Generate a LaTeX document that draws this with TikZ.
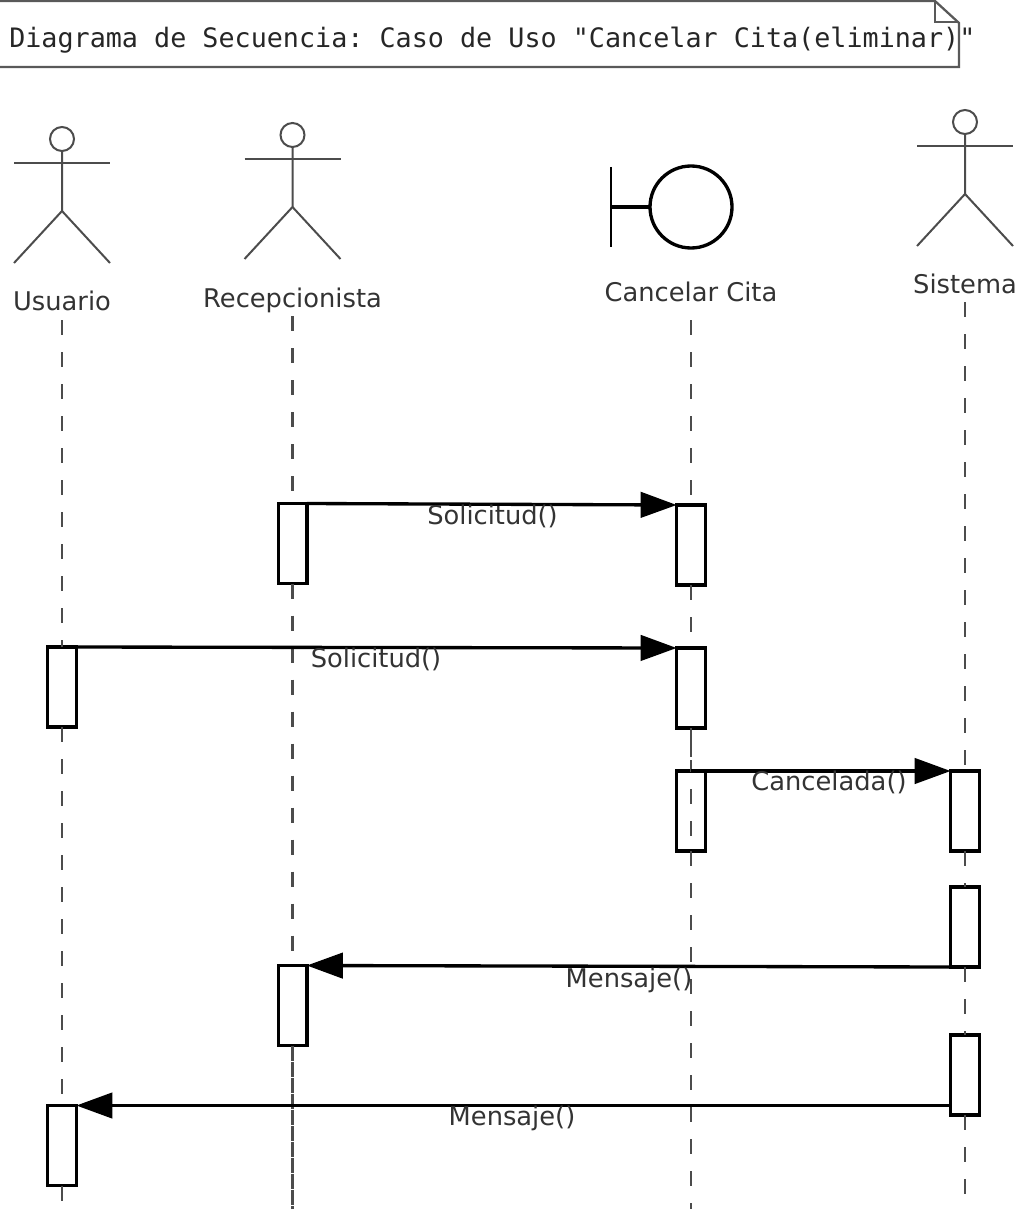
\documentclass[tikz,border=0pt]{standalone}
\usepackage{fontspec}
\setmainfont{DejaVu Sans}
\setmonofont{DejaVu Sans Mono}
\usetikzlibrary{arrows.meta}
\tikzset{
    lifeline/.style={draw=black!70,line width=1.9pt,dash pattern=on 11.5pt off 12.5pt},
    activation/.style={draw=black,fill=white,line width=2.5pt,minimum width=21.5pt,minimum height=60pt,inner sep=0pt,outer sep=0pt},
    actorlabel/.style={anchor=base,text=black!80,font=\fontsize{19.3pt}{22pt}\selectfont,inner sep=0pt},
    msglabel/.style={anchor=base,text=black!80,font=\fontsize{19.3pt}{22pt}\selectfont,inner sep=0pt},
    message/.style={draw=black,line width=2.5pt,-{Triangle[length=27pt,width=19pt]}},
    stick/.style={draw=black!70,line width=1.5pt},
}
% One stick figure, #1 is the x of the lifeline and #2 the top of the head
\newcommand{\actorfig}[2]{
    \draw[stick] (#1,#2+12) circle (12);
    \draw[stick] (#1,#2+24) -- ++(0,60) -- ++(-48,52);
    \draw[stick] (#1,#2+84) -- ++(48,52);
    \draw[stick,line width=2pt] (#1-48,#2+36) -- ++(96,0);
}
\begin{document}
\begin{tikzpicture}[x=0.75pt,y=-0.75pt]
\useasboundingbox (0,0) rectangle (1022,1209);
\clip (-5,-5) rectangle (1015,1214);
% Note with the title
\draw[draw=black!65,line width=1.7pt] (-5,1) -- (935,1) -- (959,23) -- (959,67) -- (-5,67);
\draw[draw=black!65,line width=1.7pt] (935,1) -- (935,22) -- (959,22);
\node[anchor=west,inner sep=0pt,text=black!85,font=\ttfamily\fontsize{20.06pt}{22pt}\selectfont] (title) at (9,40)
    {Diagrama de Secuencia: Caso de Uso "Cancelar Cita(eliminar)"};
% Actors
\actorfig{62}{127}
\actorfig{292.5}{123}
\actorfig{965}{110}
\node[actorlabel] (usuario) at (62,310.5) {Usuario};
\node[actorlabel] (recepcionista) at (292.5,307) {Recepcionista};
\node[actorlabel] (sistema) at (965,293) {Sistema};
% Boundary
\draw[draw=black,line width=2.5pt] (691,207) circle (41);
\draw[draw=black,line width=2.2pt] (611,167) -- (611,247);
\draw[draw=black,line width=2.6pt] (611,207) -- (650,207);
\node[actorlabel] (cancelar) at (691,301) {Cancelar Cita};
% Activations
\node[activation] (r1) at (292.5,543.5) {};
\node[activation] (c1) at (691,545) {};
\node[activation] (u1) at (62,687) {};
\node[activation] (c2) at (691,688) {};
\node[activation,fill=none] (c3) at (691,811) {};
\node[activation] (s1) at (965,811) {};
\node[activation] (s2) at (965,927) {};
\node[activation] (r2) at (292.5,1005.5) {};
\node[activation] (s3) at (965,1075) {};
\node[activation] (u2) at (62,1145.5) {};
% Lifelines
\coordinate (topu) at (62,320);
\coordinate (topr) at (292.5,316);
\coordinate (topc) at (691,320);
\coordinate (tops) at (965,302);
\coordinate (endu) at (62,1209);
\coordinate (endr) at (292.5,1209);
\coordinate (endc) at (691,1209);
\coordinate (ends) at (965,1209);
\draw[lifeline] (topu) -- (u1.north);
\draw[lifeline] (u1.south) -- (u2.north);
\draw[lifeline] (u2.south) -- (endu);
\draw[lifeline] (topr) -- (r1.north);
\draw[lifeline] (r1.south) -- (r2.north);
\draw[lifeline] (r2.south) -- (endr);
\draw[lifeline,dash phase=12pt] (r2.south) -- (endr);
\draw[lifeline] (topc) -- (c1.north);
\draw[lifeline] (c1.south) -- (c2.north);
\draw[lifeline] (c2.south) -- (c3.north);
\draw[lifeline,dash phase=14pt] (c2.south) -- (c3.north);
\draw[lifeline,dash phase=10.5pt] (c3.north) -- (c3.south);
\draw[lifeline] (c3.south) -- (endc);
\draw[lifeline] (tops) -- (s1.north);
\draw[lifeline] (s1.south) -- (s2.north);
\draw[lifeline] (s2.south) -- (s3.north);
\draw[lifeline] (s3.south) -- (ends);
% Messages
\draw[message] (r1.north east) -- (c1.north west);
\draw[message] (u1.north east) -- (c2.north west);
\draw[message] (c3.north) -- (s1.north west);
\draw[message] (s2.south west) -- (r2.north east);
\draw[message] (s3.south west |- u2.north) -- (u2.north east);
\node[msglabel] (m1) at (492.5,524) {Solicitud()};
\node[msglabel] (m2) at (376,667) {Solicitud()};
\node[msglabel] (m3) at (829,790) {Cancelada()};
\node[msglabel] (m4) at (629,987) {Mensaje()};
\node[msglabel] (m5) at (512,1125) {Mensaje()};
\end{tikzpicture}
\end{document}
